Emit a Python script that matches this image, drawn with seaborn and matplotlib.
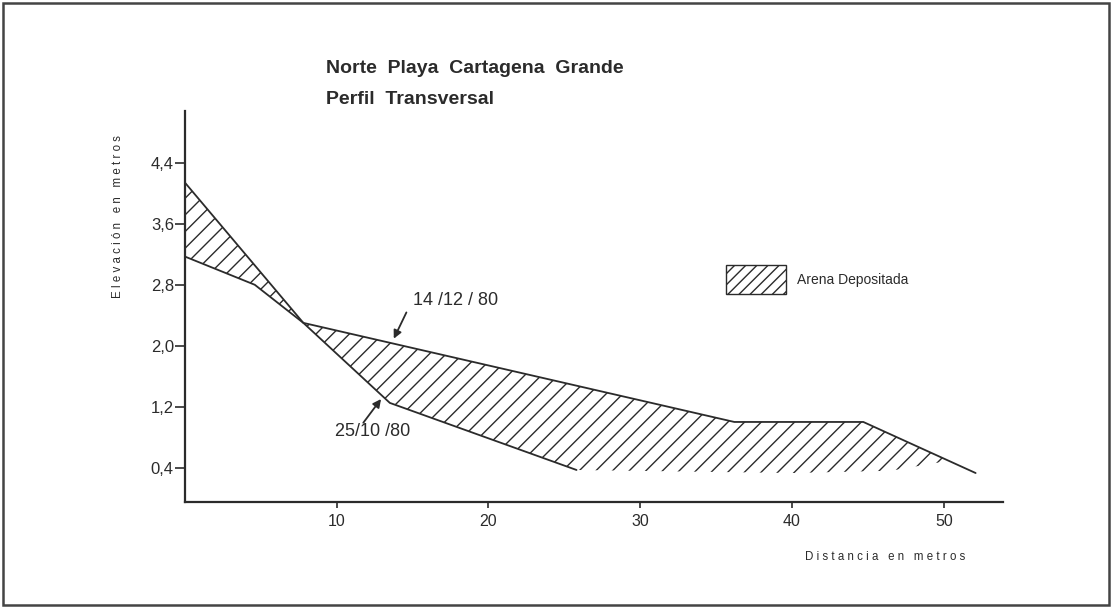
import numpy as np
import pandas as pd
import matplotlib
matplotlib.use("Agg")
import matplotlib.pyplot as plt
from matplotlib.patches import Patch, Rectangle
import seaborn as sns

# Beach profiles (distance in m, elevation in m)
dist_1412 = [0.0, 7.8, 36.2, 44.7, 52.1]
elev_1412 = [4.14, 2.30, 1.00, 1.00, 0.33]

dist_2510 = [0.0, 4.6, 7.8, 13.5, 25.8]
elev_2510 = [3.17, 2.80, 2.30, 1.25, 0.37]

# lower edge of the hatched area past the end of the 25/10/80 line (not drawn)
dist_floor = [25.8, 40.0, 46.5, 50.3]
elev_floor = [0.37, 0.33, 0.36, 0.49]

x_ticks = [10, 20, 30, 40, 50]
y_ticks = [0.4, 1.2, 2.0, 2.8, 3.6, 4.4]
y_ticklabels = ["0,4", "1,2", "2,0", "2,8", "3,6", "4,4"]

INK = "#2b2b2b"
NARROW = ["Liberation Sans Narrow", "Liberation Sans", "DejaVu Sans"]
SANS = ["Liberation Sans", "DejaVu Sans"]

sns.set_theme(style="white")
plt.rcParams["font.family"] = SANS
plt.rcParams["hatch.linewidth"] = 1.0

df = pd.concat([
    pd.DataFrame({"dist": dist_1412, "elev": elev_1412, "fecha": "14/12/80"}),
    pd.DataFrame({"dist": dist_2510, "elev": elev_2510, "fecha": "25/10/80"}),
])

fig = plt.figure(figsize=(11.15, 6.13), dpi=100)
ax = fig.add_axes([0.1659, 0.1811, 0.7336, 0.6378])

# hatched deposited sand between the two surveys
poly_x = dist_1412[:4] + dist_floor[::-1] + dist_2510[::-1][1:]
poly_y = elev_1412[:4] + elev_floor[::-1] + elev_2510[::-1][1:]
ax.fill(poly_x, poly_y, facecolor="none", edgecolor=INK, hatch="//", linewidth=0)

sns.lineplot(data=df, x="dist", y="elev", units="fecha", estimator=None,
             sort=False, color=INK, linewidth=1.3, ax=ax, legend=False)

ax.set_xlim(0, 53.9)
ax.set_ylim(-0.05, 5.08)
ax.set_xticks(x_ticks)
ax.set_yticks(y_ticks)
ax.set_yticklabels(y_ticklabels)
ax.set_xlabel("")
ax.set_ylabel("")
for s in ["top", "right"]:
    ax.spines[s].set_visible(False)
for s in ["left", "bottom"]:
    ax.spines[s].set_color(INK)
    ax.spines[s].set_linewidth(1.6)
ax.tick_params(axis="y", direction="out", length=7, width=1.2, color=INK,
               pad=1, labelsize=12, labelcolor=INK, left=True)
ax.tick_params(axis="x", direction="out", length=4, width=1.2, color=INK,
               pad=5, labelsize=11.5, labelcolor=INK, bottom=True)

# date labels with arrows
arrow = dict(arrowstyle="-|>", color=INK, lw=1.3, mutation_scale=12)
ax.annotate("", xy=(13.68, 2.06), xytext=(14.67, 2.47), arrowprops=arrow)
ax.text(15.0, 2.60, "14 /12 / 80", fontsize=13, color=INK, va="center", ha="left")
ax.annotate("", xy=(13.03, 1.33), xytext=(11.64, 0.96), arrowprops=arrow)
ax.text(9.87, 0.87, "25/10 /80", fontsize=13, color=INK, va="center", ha="left")

# legend
handle = Patch(facecolor="none", edgecolor=INK, hatch="///", linewidth=1.0)
fig.legend([handle], ["Arena Depositada"], loc="center left",
           bbox_to_anchor=(726 / 1115, 0.544), frameon=False, fontsize=10,
           handlelength=4.32, handleheight=2.87, handletextpad=0.79,
           borderpad=0, borderaxespad=0, labelcolor=INK)

# titles and axis titles
fig.text(0.2924, 0.889, "Norte  Playa  Cartagena  Grande", family=NARROW,
         fontweight="bold", fontsize=14, color=INK, va="center", ha="left")
fig.text(0.2924, 0.837, "Perfil  Transversal", family=NARROW,
         fontweight="bold", fontsize=14, color=INK, va="center", ha="left")
fig.text(0.1058, 0.646, "E l e v a c i ó n   e n   m e t r o s", rotation=90,
         fontsize=8.3, color=INK, va="center", ha="center")
fig.text(0.8655, 0.0914, "D i s t a n c i a   e n   m e t r o s",
         fontsize=8.3, color=INK, va="center", ha="right")

# page frame
fig.patches.append(Rectangle((3 / 1115, 8 / 613), 1106 / 1115, 602 / 613,
                             transform=fig.transFigure, fill=False,
                             edgecolor="#444444", linewidth=1.8))

fig.savefig("out.png", dpi=100)
